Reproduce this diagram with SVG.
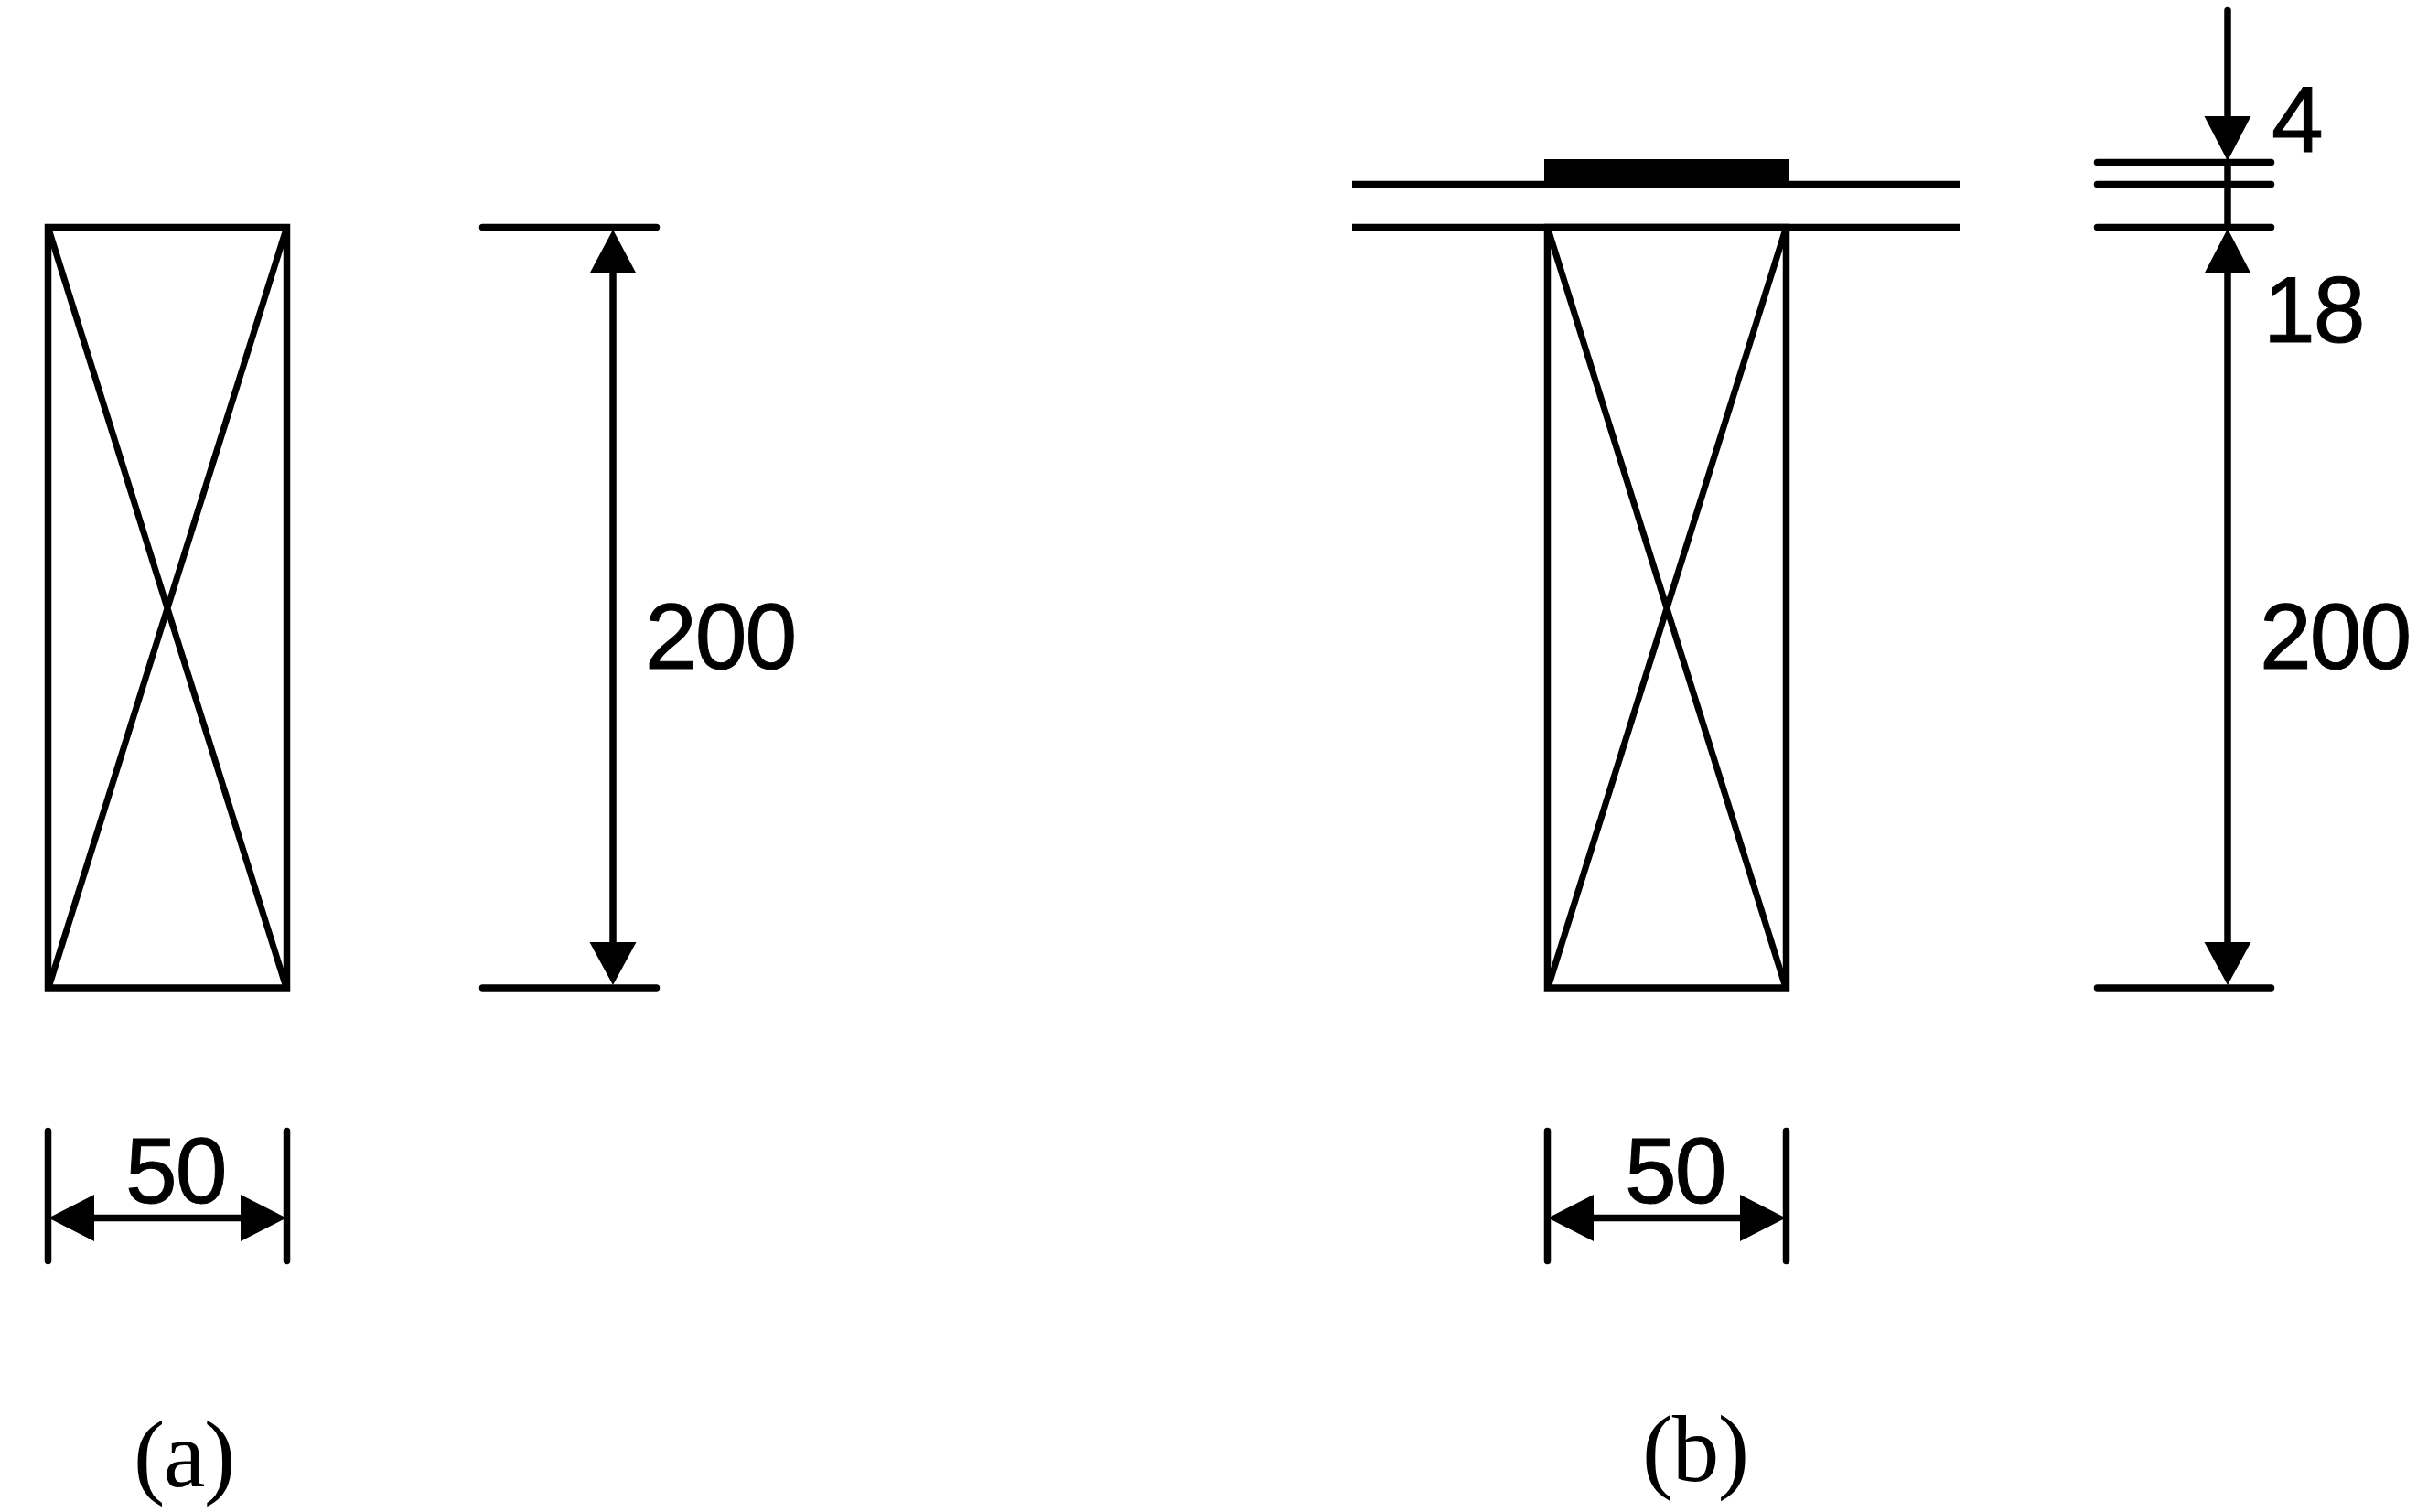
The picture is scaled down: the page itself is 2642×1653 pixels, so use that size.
<svg xmlns="http://www.w3.org/2000/svg" width="2642" height="1653" viewBox="0 0 2642 1653">
<style>
.box{fill:none;stroke:#000;stroke-width:7.5;stroke-linejoin:miter}
.diag{fill:none;stroke:#000;stroke-width:7}
.dim{fill:none;stroke:#000;stroke-width:7.5;stroke-linecap:round}
.head{fill:#000;stroke:none}
.num{font-family:"Liberation Sans",Arial,sans-serif;font-size:102px;letter-spacing:-2px;fill:#000;stroke:#000;stroke-width:1}
.cap{font-family:"Liberation Serif","Times New Roman",serif;font-size:103px;letter-spacing:-1.500px;fill:#000}
</style>
<rect width="2642" height="1653" fill="#fff"/>
<g id="section-a">
<rect class="box" x="52.500" y="248.500" width="261" height="831.500"/>
<path class="diag" d="M53 250L313 1080M313 250L53 1080"/>
</g>
<g id="section-b">
<rect class="box" x="1691.500" y="248.500" width="261" height="831.500"/>
<path class="diag" d="M1692 250L1952 1080M1952 250L1692 1080"/>
<rect x="1688" y="174" width="268" height="28" fill="#000"/>
<path d="M1478 201.500H2142M1478 248.500H2142" fill="none" stroke="#000" stroke-width="7.500"/>
</g>
<g id="connectors">
<path class="dim" d="M527.500 248.500H717.500M527.500 1080H717.500M670 290V1040"/>
<path class="head" d="M670 251L695.500 299H644.500ZM670 1077L695.500 1030H644.500Z"/>
<path class="dim" d="M52.500 1236.500V1378.500M313.500 1236.500V1378.500M95 1331.500H270"/>
<path class="head" d="M53 1331.500L103 1306V1357ZM313 1331.500L263 1306V1357Z"/>
<path class="dim" d="M1691.500 1236.500V1378.500M1952.500 1236.500V1378.500M1735 1331.500H1910"/>
<path class="head" d="M1692 1331.500L1742 1306V1357ZM1952 1331.500L1902 1306V1357Z"/>
<path class="dim" d="M2292.500 177.500H2482.500M2292.500 201.500H2482.500M2292.500 248.500H2482.500M2292.500 1080H2482.500M2435 11.500V140M2435 177V248M2435 290V1040"/>
<path class="head" d="M2435 176L2460.500 127H2409.500ZM2435 250L2460.500 299H2409.500ZM2435 1077L2460.500 1030H2409.500Z"/>
</g>
<g id="labels">
<text class="num" x="705" y="731">200</text>
<text class="num" x="137" y="1315">50</text>
<text class="num" x="1776" y="1315">50</text>
<text class="num" x="2483" y="166">4</text>
<text class="num" x="2474" y="374">18</text>
<text class="num" x="2470" y="731">200</text>
<text class="cap" x="146" y="1625">(a)</text>
<text class="cap" x="1795" y="1619">(b)</text>
</g>
</svg>
